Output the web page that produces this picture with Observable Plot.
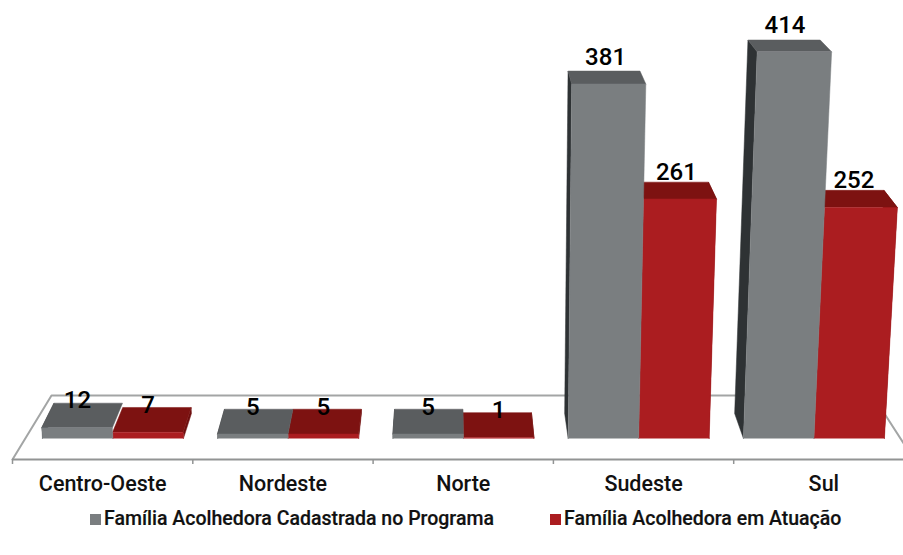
<!DOCTYPE html>
<html lang="pt">
<head>
<meta charset="utf-8">
<script src="https://cdn.jsdelivr.net/npm/d3@7"></script>
<script src="https://cdn.jsdelivr.net/npm/@observablehq/plot@0.6"></script>
<style>
html,body{margin:0;padding:0;background:#fff;}
#legend{position:relative;height:26px;top:1px;font:500 19.5px Roboto,sans-serif;color:#111;line-height:26px;white-space:nowrap;-webkit-text-stroke:0.2px #111;}
#legend span.item{position:absolute;top:0;}
#legend i{display:inline-block;width:11px;height:11px;margin-right:3px;}
svg{display:block;}
</style>
</head>
<body>
<div id="chart"></div>
<div id="legend"></div>
<script>
const categories = ["Centro-Oeste", "Nordeste", "Norte", "Sudeste", "Sul"];
const cadastrada = [12, 5, 5, 381, 414];
const atuacao = [7, 5, 1, 261, 252];
const seriesNames = ["Família Acolhedora Cadastrada no Programa", "Família Acolhedora em Atuação"];
const legendLeft = [90, 550];
const palette = [
  {front: "#7a7e80", top: "#5a5d5f", side: "#2e3234"},
  {front: "#ab1d20", top: "#7d1211", side: "#6e0f0f"}
];

// Pseudo-3D projection: position in category units, elevation in y-scale units
const barStart = 0.166, barStep = 0.972, barWidth = 0.391;
const fanCentre = 2.707, depthCentre = 2.43;
const height3d = v => v * (0.89 + 0.000106 * v);
function project(u, H, d) {
  const fu = u + (u - fanCentre) * 0.000146 * H;
  return {x: fu - (fu - depthCentre) * 0.03 * d, y: H + (25 - 0.034 * H) * d};
}
const faces = [];
function addFace(id, fill, corners) {
  corners.forEach(([u, H, d]) => {
    const p = project(u, H, d);
    faces.push({id, fill, x: p.x, y: p.y});
  });
}
const labels = [];
[1, 0].forEach(s => {
  const values = s === 0 ? cadastrada : atuacao;
  values.forEach((v, i) => {
    const u0 = barStart + barStep * i + barWidth * s;
    const u1 = u0 + barWidth;
    const H = height3d(v);
    const c = palette[s];
    const id = `${s}-${i}`;
    if (s === 0) addFace(id + "L", c.side, [[u0, 0, 0], [u0, 0, 1], [u0, H, 1], [u0, H, 0]]);
    else addFace(id + "R", c.side, [[u1, 0, 0], [u1, 0, 1], [u1, H, 1], [u1, H, 0]]);
    addFace(id + "T", c.top, [[u0, H, 0], [u0, H, 1], [u1, H, 1], [u1, H, 0]]);
    addFace(id + "F", c.front, [[u0, 0, 0], [u0, H, 0], [u1, H, 0], [u1, 0, 0]]);
    const back = project((u0 + u1) / 2, H, 1);
    labels.push({
      x: project((u0 + u1) / 2, H * 0.4, 0).x,
      y: back.y + 2 + 0.034 * H,
      text: String(v)
    });
  });
});

const floorFrontY = -21, floorBackY = 43, floorInset = 0.089;
const floorBackX = u => u - (u - depthCentre) * floorInset;
const floorLines = [
  {id: "l", x: 0, y: floorFrontY}, {id: "l", x: floorBackX(0), y: floorBackY},
  {id: "l", x: floorBackX(5), y: floorBackY}, {id: "l", x: 5, y: floorFrontY}
];
const ticks = d3.range(0, 5);

const chart = Plot.plot({
  width: 903,
  height: 505,
  margin: 0,
  x: {domain: [0, 5], range: [12, 913.5], axis: null},
  y: {domain: [-46, 438], range: [484, 0], axis: null},
  color: {type: "identity"},
  marks: [
    Plot.line(floorLines, {x: "x", y: "y", z: "id", stroke: "#a3a5a5", strokeWidth: 2}),
    Plot.line(faces, {x: "x", y: "y", z: "id", fill: "fill", stroke: "fill", strokeWidth: 0.5}),
    Plot.ruleY([floorFrontY], {x1: 0, x2: 5, stroke: "#929494", strokeWidth: 2}),
    Plot.ruleX(ticks, {y1: floorFrontY, y2: floorFrontY - 5, stroke: "#929494", strokeWidth: 1.5}),
    Plot.text(categories, {
      x: (d, i) => i + 0.5, y: -46, text: d => d,
      fontFamily: "Roboto, sans-serif", fontWeight: 500, fontSize: 21.5, fill: "#111"
    }),
    Plot.text(labels, {
      x: "x", y: "y", text: "text",
      fontFamily: "Roboto, sans-serif", fontWeight: 500, fontSize: 24, fill: "#000"
    })
  ]
});
document.getElementById("chart").appendChild(chart);

const legend = document.getElementById("legend");
seriesNames.forEach((name, i) => {
  const item = document.createElement("span");
  item.className = "item";
  item.style.left = legendLeft[i] + "px";
  const sw = document.createElement("i");
  sw.style.background = palette[i].front;
  item.appendChild(sw);
  item.appendChild(document.createTextNode(name));
  legend.appendChild(item);
});
</script>
</body>
</html>
